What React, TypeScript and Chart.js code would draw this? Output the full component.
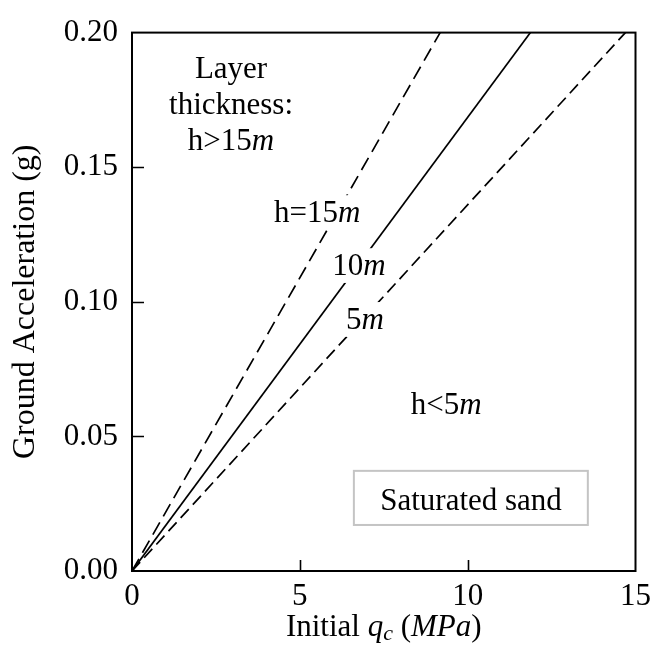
import { useEffect, useRef } from 'react';
import { Chart, registerables } from 'chart.js';

Chart.register(...registerables);

// ---- data ----
const xTickValues = [0, 5, 10, 15];
const yTickValues = [0, 0.05, 0.1, 0.15, 0.2];
const xInnerTicks = [5, 10];
const yInnerTicks = [0.05, 0.1, 0.15];

const boundaryNames = ['h=15m', '10m', '5m'];
const boundaryStartX = [0, 0, 0];
const boundaryStartY = [0, 0, 0];
const boundaryEndX = [9.18, 11.87, 14.7];
const boundaryEndY = [0.2, 0.2, 0.2];

type Seg = { t: string; i?: boolean; sub?: boolean };
const noteTexts: Seg[][] = [
  [{ t: 'Layer' }],
  [{ t: 'thickness:' }],
  [{ t: 'h>15' }, { t: 'm', i: true }],
  [{ t: 'h=15' }, { t: 'm', i: true }],
  [{ t: '10' }, { t: 'm', i: true }],
  [{ t: '5' }, { t: 'm', i: true }],
  [{ t: 'h<5' }, { t: 'm', i: true }],
];
const noteX = [2.95, 2.95, 2.95, 5.52, 6.76, 6.94, 9.36];
const noteY = [0.1832, 0.1698, 0.1563, 0.1297, 0.11, 0.09, 0.0583];

const boxText = 'Saturated sand';
const boxTextX = 10.1;
const boxTextY = 0.0226;
const boxX = [6.61, 13.58];
const boxY = [0.0171, 0.0372];

const xTitle: Seg[] = [
  { t: 'Initial ' },
  { t: 'q', i: true },
  { t: 'c', i: true, sub: true },
  { t: ' (' },
  { t: 'MPa', i: true },
  { t: ')' },
];
const yTitle = 'Ground Acceleration (g)';

const FAMILY = '"Liberation Serif", "Times New Roman", serif';
const FS = 31;
const TICK_FS = 31;
const YTITLE_FS = 32;

function fontFor(s: Seg) {
  const size = s.sub ? Math.round(FS * 0.7) : FS;
  return `${s.i ? 'italic ' : ''}${size}px ${FAMILY}`;
}

function drawRich(ctx: CanvasRenderingContext2D, segs: Seg[], cx: number, baseline: number, bg: boolean) {
  let w = 0;
  const widths = segs.map((s) => {
    ctx.font = fontFor(s);
    const m = ctx.measureText(s.t).width;
    w += m;
    return m;
  });
  let x = cx - w / 2;
  if (bg) {
    ctx.fillStyle = '#fff';
    ctx.fillRect(x - 2, baseline - FS * 0.86, w + 4, FS * 1.12);
  }
  ctx.fillStyle = '#000';
  ctx.textBaseline = 'alphabetic';
  ctx.textAlign = 'left';
  segs.forEach((s, k) => {
    ctx.font = fontFor(s);
    ctx.fillText(s.t, x, baseline + (s.sub ? 4 : 0));
    x += widths[k];
  });
}

const overlayPlugin = {
  id: 'overlay',
  afterDatasetsDraw(chart: any) {
    const { ctx, chartArea: ca } = chart;
    const xs = chart.scales.x;
    const ys = chart.scales.y;
    ctx.save();

    // labels with white background
    noteTexts.forEach((segs, k) => {
      drawRich(ctx, segs, xs.getPixelForValue(noteX[k]), ys.getPixelForValue(noteY[k]), true);
    });

    // Saturated sand box
    const bx0 = xs.getPixelForValue(boxX[0]);
    const bx1 = xs.getPixelForValue(boxX[1]);
    const by0 = ys.getPixelForValue(boxY[1]);
    const by1 = ys.getPixelForValue(boxY[0]);
    ctx.fillStyle = '#fff';
    ctx.fillRect(bx0, by0, bx1 - bx0, by1 - by0);
    ctx.strokeStyle = '#c4c4c4';
    ctx.lineWidth = 2;
    ctx.strokeRect(bx0, by0, bx1 - bx0, by1 - by0);
    drawRich(ctx, [{ t: boxText }], xs.getPixelForValue(boxTextX), ys.getPixelForValue(boxTextY), false);

    // frame
    ctx.strokeStyle = '#000';
    ctx.lineWidth = 2;
    ctx.strokeRect(ca.left, ca.top, ca.right - ca.left, ca.bottom - ca.top);

    // inward ticks
    ctx.lineWidth = 1.6;
    ctx.beginPath();
    xInnerTicks.forEach((v) => {
      const px = Math.round(xs.getPixelForValue(v)) + 0.5;
      ctx.moveTo(px, ca.bottom);
      ctx.lineTo(px, ca.bottom - 11);
    });
    yInnerTicks.forEach((v) => {
      const py = Math.round(ys.getPixelForValue(v)) + 0.5;
      ctx.moveTo(ca.left, py);
      ctx.lineTo(ca.left + 12, py);
    });
    ctx.stroke();

    // axis titles
    drawRich(ctx, xTitle, (ca.left + ca.right) / 2, 636, false);
    ctx.save();
    ctx.translate(26, (ca.top + ca.bottom) / 2);
    ctx.rotate(-Math.PI / 2);
    ctx.font = `${YTITLE_FS}px ${FAMILY}`;
    ctx.fillStyle = '#000';
    ctx.textAlign = 'center';
    ctx.textBaseline = 'middle';
    ctx.fillText(yTitle, 0, 0);
    ctx.restore();

    ctx.restore();
  },
};

export default function App() {
  const ref = useRef<HTMLCanvasElement | null>(null);
  useEffect(() => {
    document.body.style.margin = '0';
    const canvas = ref.current!;
    const chart = new Chart(canvas, {
      type: 'line',
      data: {
        datasets: boundaryNames.map((n, i) => ({
          label: n,
          data: [
            { x: boundaryStartX[i], y: boundaryStartY[i] },
            { x: boundaryEndX[i], y: boundaryEndY[i] },
          ],
          borderColor: '#000',
          borderWidth: 1.7,
          borderDash: i === 1 ? [] : i === 0 ? [14, 7] : [12, 6],
          pointRadius: 0,
          fill: false,
          tension: 0,
        })),
      },
      options: {
        animation: false,
        responsive: false,
        devicePixelRatio: 1,
        layout: { padding: { left: 0, right: 18, top: 22, bottom: 0 } },
        plugins: { legend: { display: false }, tooltip: { enabled: false } },
        scales: {
          x: {
            type: 'linear',
            min: 0,
            max: 15,
            afterBuildTicks: (s: any) => {
              s.ticks = xTickValues.map((v) => ({ value: v }));
            },
            ticks: {
              color: '#000',
              font: { family: FAMILY, size: TICK_FS },
              padding: 7,
              maxRotation: 0,
              autoSkip: false,
            },
            grid: { display: false, drawTicks: false },
            border: { display: false },
            afterFit: (s: any) => {
              s.height = 78;
            },
          },
          y: {
            type: 'linear',
            min: 0,
            max: 0.2,
            afterBuildTicks: (s: any) => {
              s.ticks = yTickValues.map((v) => ({ value: v }));
            },
            ticks: {
              color: '#000',
              font: { family: FAMILY, size: TICK_FS },
              padding: 14,
              callback: (v: any) => Number(v).toFixed(2),
            },
            grid: { display: false, drawTicks: false },
            border: { display: false },
            afterFit: (s: any) => {
              s.width = 132;
            },
          },
        },
      },
      plugins: [overlayPlugin],
    });
    return () => chart.destroy();
  }, []);
  return (
    <div style={{ position: 'absolute', left: 0, top: 0, width: 658, height: 649, background: '#fff' }}>
      <canvas ref={ref} width={658} height={649} />
    </div>
  );
}
